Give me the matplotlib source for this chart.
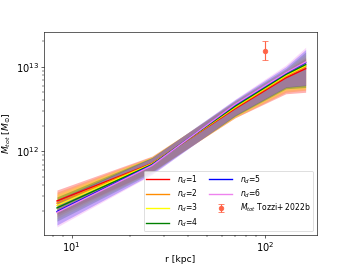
import matplotlib
matplotlib.use("Agg")
import matplotlib.pyplot as plt

r = [8.4, 26, 70, 128, 162]

colors = ["red", "darkorange", "yellow", "green", "blue", "violet"]
labels = ["$n_d$=1", "$n_d$=2", "$n_d$=3", "$n_d$=4", "$n_d$=5", "$n_d$=6"]

med = [
    [2.6e11, 7.2e11, 3.2e12, 7.4e12, 9.5e12],
    [2.45e11, 7.15e11, 3.28e12, 7.7e12, 1.0e13],
    [2.3e11, 7.1e11, 3.35e12, 7.9e12, 1.03e13],
    [2.15e11, 7.0e11, 3.42e12, 8.1e12, 1.06e13],
    [1.95e11, 6.9e11, 3.55e12, 8.4e12, 1.12e13],
    [1.9e11, 6.8e11, 3.6e12, 8.5e12, 1.14e13],
]
low = [
    [1.8e11, 5.8e11, 2.5e12, 4.8e12, 5.0e12],
    [1.7e11, 5.8e11, 2.5e12, 5.0e12, 5.3e12],
    [1.6e11, 5.7e11, 2.55e12, 5.3e12, 5.5e12],
    [1.5e11, 5.6e11, 2.6e12, 5.5e12, 5.7e12],
    [1.35e11, 5.4e11, 2.65e12, 5.7e12, 6.0e12],
    [1.28e11, 5.3e11, 2.7e12, 5.8e12, 6.1e12],
]
up = [
    [3.5e11, 8.8e11, 3.8e12, 8.8e12, 1.25e13],
    [3.3e11, 8.7e11, 3.9e12, 9.0e12, 1.3e13],
    [3.1e11, 8.6e11, 3.95e12, 9.3e12, 1.4e13],
    [2.9e11, 8.5e11, 4.0e12, 9.5e12, 1.5e13],
    [2.7e11, 8.4e11, 4.1e12, 1.0e13, 1.6e13],
    [2.6e11, 8.3e11, 4.15e12, 1.05e13, 1.7e13],
]

# Tozzi+ 2022b point
r_t = [100]
m_t = [1.52e13]
m_t_lo = [0.31e13]
m_t_hi = [0.48e13]

fig, ax = plt.subplots(figsize=(6.4, 4.8), dpi=55)

for i in range(6):
    ax.fill_between(r, low[i], up[i], color=colors[i], alpha=0.3, lw=0)
for i in range(6):
    ax.plot(r, med[i], color=colors[i], lw=1.8, label=labels[i])

ax.errorbar(r_t, m_t, yerr=[m_t_lo, m_t_hi], fmt="o", color="tomato",
            capsize=4, ms=6, label="$M_{tot}$ Tozzi+ 2022b")

ax.set_xscale("log")
ax.set_yscale("log")
ax.set_xlim(7.2, 185)
ax.set_ylim(1.03e11, 2.6e13)
ax.set_xlabel("r [kpc]", fontsize=12, labelpad=1)
ax.set_ylabel("$M_{tot}$ [$M_{\\odot}$]", fontsize=12)
ax.tick_params(labelsize=13)
ax.legend(loc="lower right", ncol=2, fontsize=10, handlelength=3.0,
          handletextpad=1.0, columnspacing=1.5, labelspacing=0.25,
          borderpad=0.3)

plt.savefig("out.png", dpi=55)
